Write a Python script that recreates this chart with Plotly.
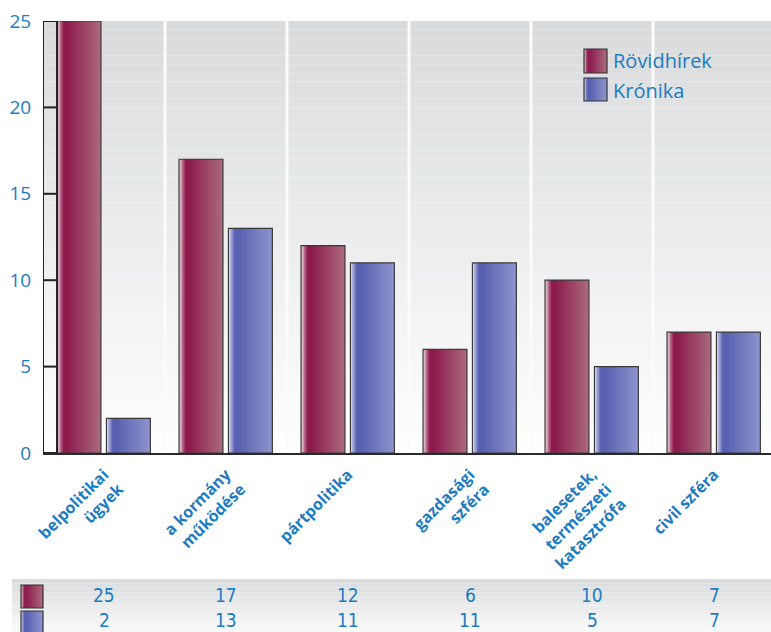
import plotly.graph_objects as go

# ---------------- data ----------------
categories = ["belpolitikai<br>ügyek", "a kormány<br>működése", "pártpolitika",
              "gazdasági<br>szféra", "balesetek,<br>természeti<br>katasztrófa", "civil szféra"]
series_names = ["Rövidhírek", "Krónika"]
rovidhirek = [25, 17, 12, 6, 10, 7]
kronika = [2, 13, 11, 11, 5, 7]
y_ticks = [0, 5, 10, 15, 20, 25]

# ---------------- style ----------------
BLUE_TXT = "#1b7cc2"
RED_STOPS = [(0, (239, 227, 232)), (0.06, (201, 140, 163)), (0.14, (146, 28, 80)),
             (0.22, (140, 26, 75)), (1, (171, 107, 126))]
BLU_STOPS = [(0, (232, 234, 246)), (0.06, (164, 169, 218)), (0.14, (89, 97, 178)),
             (0.22, (88, 96, 176)), (1, (142, 148, 205))]


def grad(stops, t):
    for (t0, c0), (t1, c1) in zip(stops[:-1], stops[1:]):
        if t <= t1:
            f = (t - t0) / (t1 - t0) if t1 > t0 else 0
            c = [round(a + (b - a) * f) for a, b in zip(c0, c1)]
            return "rgb(%d,%d,%d)" % tuple(c)
    return "rgb(%d,%d,%d)" % stops[-1][1]


def lerp_col(c0, c1, f):
    c = [round(a + (b - a) * f) for a, b in zip(c0, c1)]
    return "rgb(%d,%d,%d)" % tuple(c)


x_idx = list(range(len(categories)))
BAR_W = 0.36
OFFSETS = [-0.385, 0.02]
NSLICE = 30

fig = go.Figure()

for s, (vals, stops) in enumerate([(rovidhirek, RED_STOPS), (kronika, BLU_STOPS)]):
    d = BAR_W / NSLICE
    for i in range(NSLICE):
        col = grad(stops, (i + 0.5) / NSLICE)
        fig.add_trace(go.Bar(
            x=x_idx, y=vals, width=min(2.5 * d, BAR_W - i * d),
            offset=OFFSETS[s] + i * d,
            marker=dict(color=col, line=dict(width=0)),
            hoverinfo="skip", showlegend=False))
    fig.add_trace(go.Bar(
        x=x_idx, y=vals, width=BAR_W, offset=OFFSETS[s], name=series_names[s],
        marker=dict(color="rgba(0,0,0,0)", line=dict(color="#3a3a3a", width=1.2)),
        showlegend=False))

shapes = []
# plot background gradient
NB = 50
for k in range(NB):
    y0 = 25 * k / NB
    y1 = 25 * (k + 1) / NB
    shapes.append(dict(type="rect", xref="x", yref="y", x0=-0.5, x1=5.6, y0=y0, y1=y1,
                       fillcolor=lerp_col((255, 255, 255), (217, 218, 220), (k + 0.5) / NB),
                       line=dict(width=0), layer="below"))
# vertical white separators
for k in range(len(categories)):
    shapes.append(dict(type="line", xref="x", yref="y", x0=k + 0.5, x1=k + 0.5, y0=0, y1=25,
                       line=dict(color="#fbfbfb", width=3), layer="below"))
# left wall
shapes.append(dict(type="rect", xref="x", yref="y", x0=-0.5, x1=-0.385, y0=0, y1=25,
                   line=dict(color="#222222", width=2), layer="above"))
for t in y_ticks[1:-1]:
    shapes.append(dict(type="line", xref="x", yref="y", x0=-0.5, x1=-0.385, y0=t, y1=t,
                       line=dict(color="#222222", width=2), layer="above"))

# bottom table band
PL, PW, PB, PH = 43, 728, 453, 432
px = lambda p: (p - PL) / PW
py = lambda p: (PB - p) / PH
NT = 12
for k in range(NT):
    a = 579 + (632 - 579) * k / NT
    b = 579 + (632 - 579) * (k + 1) / NT
    shapes.append(dict(type="rect", xref="paper", yref="paper", x0=px(12), x1=px(771),
                       y0=py(b), y1=py(a),
                       fillcolor=lerp_col((218, 219, 221), (250, 250, 250), (k + 0.5) / NT),
                       line=dict(width=0), layer="below"))


def key_box(x0p, x1p, y0p, y1p, stops):
    n = 14
    w = (x1p - x0p) / n
    for i in range(n):
        shapes.append(dict(type="rect", xref="paper", yref="paper",
                           x0=px(x0p + w * i), x1=px(min(x1p, x0p + w * (i + 2))),
                           y0=py(y1p), y1=py(y0p), fillcolor=grad(stops, (i + 0.5) / n),
                           line=dict(width=0), layer="above"))
    shapes.append(dict(type="rect", xref="paper", yref="paper", x0=px(x0p), x1=px(x1p),
                       y0=py(y1p), y1=py(y0p), line=dict(color="#333333", width=1.2),
                       layer="above"))


# table keys
key_box(21, 43, 585, 608, RED_STOPS)
key_box(21, 43, 611, 634, BLU_STOPS)
# legend keys
key_box(584, 607, 49, 73, RED_STOPS)
key_box(584, 607, 78, 101, BLU_STOPS)

annotations = []
for s, name in enumerate(series_names):
    annotations.append(dict(text=name, xref="paper", yref="paper", x=px(611),
                            y=py(61 + 29 * s), xanchor="left", yanchor="middle",
                            showarrow=False, font=dict(size=20, color=BLUE_TXT,
                                                        family="Open Sans")))
NUM_FONT = dict(size=19, color=BLUE_TXT, family="DejaVu Sans Condensed, Open Sans")
for s, vals in enumerate([rovidhirek, kronika]):
    for i, v in enumerate(vals):
        annotations.append(dict(text=str(v), xref="x", yref="paper", x=i,
                                y=py(595 + 25 * s), xanchor="center", yanchor="middle",
                                showarrow=False, font=NUM_FONT))

fig.update_layout(
    width=771, height=632,
    margin=dict(l=PL, r=0, t=21, b=632 - PB),
    barmode="overlay",
    paper_bgcolor="white", plot_bgcolor="white",
    showlegend=False,
    shapes=shapes, annotations=annotations,
    xaxis=dict(range=[-0.5, -0.5 + PW / 122.0], tickvals=x_idx, ticktext=categories,
               tickangle=-45, showgrid=False, zeroline=False, showline=True,
               linecolor="#2a2a2a", linewidth=2, ticks="", ticklabelstandoff=4,
               tickfont=dict(size=16, color=BLUE_TXT, family="Open Sans", weight="bold")),
    yaxis=dict(range=[0, 25], tickvals=y_ticks, showgrid=False, zeroline=False,
               showline=False, ticks="outside", ticklen=7, tickcolor="rgba(0,0,0,0)",
               tickfont=dict(size=19, color=BLUE_TXT, family="Open Sans")),
)

fig.write_html("out.html", config={"displayModeBar": False},
               post_script="document.body.style.margin='0';document.body.style.padding='0';"
                           "document.body.style.overflow='hidden';")
